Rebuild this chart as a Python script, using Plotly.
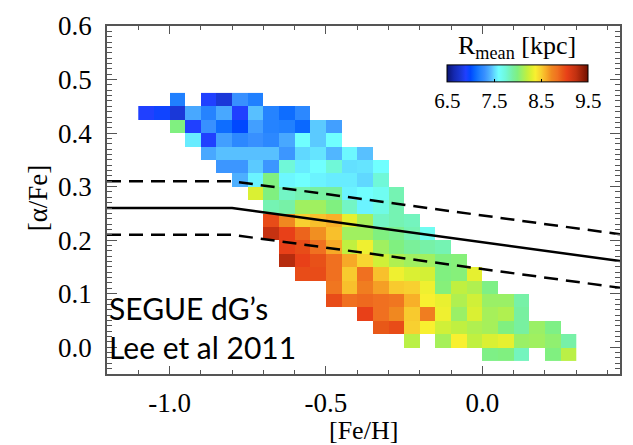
import plotly.graph_objects as go

# ---- data -----------------------------------------------------------
feh_centers = [-1.075, -1.025, -0.975, -0.925, -0.875, -0.825, -0.775, -0.725,
               -0.675, -0.625, -0.575, -0.525, -0.475, -0.425, -0.375, -0.325,
               -0.275, -0.225, -0.175, -0.125, -0.075, -0.025, 0.025, 0.075,
               0.125, 0.175, 0.225, 0.275]
alpha_centers = [0.4625, 0.4375, 0.4125, 0.3875, 0.3625, 0.3375, 0.3125, 0.2875,
                 0.2625, 0.2375, 0.2125, 0.1875, 0.1625, 0.1375, 0.1125, 0.0875,
                 0.0625, 0.0375, 0.0125, -0.0125]

# each row: (index of first filled [Fe/H] bin, R_mean values; None = empty bin)
row_start = [2, 0, 2, 3, 4, 5, 6, 7, 8, 8, 8, 9, 9, 10, 12, 12, 14, 15, 17, 22]
row_values = [
    [7.2, None, 6.9, 6.8, 7.3, 7.2],
    [6.9, 6.95, 6.8, 7.38, 7.22, 7.38, 6.9, 7.45, 7.22, 7.12, 7.25],
    [8.0, 6.9, 7.3, 7.12, 7.0, 7.35, 7.22, 7.2, 7.1, 7.47, 7.35],
    [7.55, 6.9, 7.35, 7.25, 7.3, 7.25, 7.38, 7.6, 7.47, 7.6],
    [7.38, 7.45, 7.45, 7.45, 7.45, 7.32, 7.5, 7.53, 7.42, 7.58, 7.45],
    [7.32, 7.32, 7.47, 7.32, 7.75, 7.55, 7.6, 7.75, 7.52, 7.53, 7.6],
    [7.4, 7.57, 8.0, 7.58, 7.6, 7.57, 7.55, 7.55, 7.5, 7.75],
    [8.28, 8.0, 7.8, 7.85, 7.9, 7.9, 7.57, 7.6, 7.65, 7.85],
    [7.85, 7.88, 8.1, 8.1, 8.0, 7.8, 7.57, 7.7, 7.85],
    [9.0, 8.72, 8.5, 8.55, 8.6, 8.32, 8.12, 7.8, 7.85, 7.82],
    [9.22, 9.05, 8.9, 8.7, 8.55, 8.1, 8.1, 8.0, 7.95, 7.85, 7.65],
    [9.05, 9.0, 8.85, 8.62, 8.2, 8.35, 8.1, 8.0, 7.92, 7.88, 7.85],
    [9.28, 9.05, 8.98, 8.85, 8.62, 8.48, 8.25, 8.15, 8.1, 8.1, 8.0, 8.02],
    [9.0, 9.0, 8.85, 8.52, 8.85, 8.55, 8.35, 8.28, 8.26, 8.0, 8.02, 8.32],
    [8.82, 8.55, 8.78, 8.65, 8.52, 8.5, 8.35, 8.02, 8.2, 8.15, 7.98],
    [9.0, 8.85, 8.88, 8.85, 8.82, 8.6, 8.38, 8.33, 8.15, 8.25, 8.08, 8.08, 7.88],
    [9.05, 8.85, 8.72, 8.52, 8.78, 8.35, 8.08, 8.28, 8.12, 8.15, 7.9],
    [8.95, 9.0, 8.5, 8.38, 8.25, 8.2, 8.15, 8.12, 8.0, 7.9, 8.08, 7.98],
    [8.18, None, 8.12, 8.38, 8.2, 8.28, 8.32, 8.08, 8.1, 8.05, 7.88],
    [7.98, 8.0, 7.82, None, 8.0, 8.18],
]

# dividing line (solid) and its +/- 0.05 envelope (dashed)
line_feh = [-1.2, -0.8, 0.44]
line_alpha = [0.26, 0.26, 0.161]
line_alpha_upper = [0.31, 0.31, 0.211]
line_alpha_lower = [0.21, 0.21, 0.111]

x_ticks = [-1.0, -0.5, 0.0]
x_ticktext = ["-1.0", "-0.5", "0.0"]
y_ticks = [0.0, 0.1, 0.2, 0.3, 0.4, 0.5, 0.6]
y_ticktext = ["0.0", "0.1", "0.2", "0.3", "0.4", "0.5", "0.6"]
cbar_ticks = [6.5, 7.5, 8.5, 9.5]
cbar_ticktext = ["6.5", "7.5", "8.5", "9.5"]

# ---- assemble grid ---------------------------------------------------
grid = []
for start, vals in zip(row_start, row_values):
    row = [None] * len(feh_centers)
    for i, v in enumerate(vals):
        row[start + i] = v
    grid.append(row)

zmin, zmax = 6.5, 9.5
stops = [
    (6.5, "#0a1470"), (6.65, "#1428b0"), (6.8, "#1a38d8"), (6.9, "#2040ff"),
    (7.0, "#0048ff"), (7.1, "#0a68ff"), (7.2, "#2080ff"), (7.3, "#3890ff"),
    (7.38, "#48a8ff"), (7.45, "#58c0ff"), (7.5, "#60d8ff"), (7.6, "#70ffff"),
    (7.75, "#70f8d8"), (7.9, "#78f0a0"), (8.0, "#80f080"), (8.1, "#a0f060"),
    (8.2, "#c0f040"), (8.3, "#e0f030"), (8.38, "#f8f030"), (8.5, "#f8d030"),
    (8.6, "#f8b028"), (8.72, "#f08820"), (8.85, "#f07020"), (8.95, "#e85818"),
    (9.05, "#e84018"), (9.25, "#c03010"), (9.5, "#701000"),
]
colorscale = [[(v - zmin) / (zmax - zmin), c] for v, c in stops]

W, H = 633, 445
ML, MR, MT, MB = 107, 11, 14, 71
PW, PH = W - ML - MR, H - MT - MB
SERIF = "Liberation Serif, Times New Roman, serif"


def px_x(px):
    return (px - ML) / PW


def px_y(py):
    return (H - MB - py) / PH


fig = go.Figure()
fig.add_trace(go.Heatmap(
    x=feh_centers, y=alpha_centers, z=grid,
    colorscale=colorscale, zmin=zmin, zmax=zmax,
    hoverongaps=False,
    colorbar=dict(
        orientation="h",
        lenmode="pixels", len=141, thickness=17,
        xpad=0, ypad=0,
        x=px_x(519.5), xanchor="center",
        y=px_y(81), yanchor="middle",
        outlinecolor="black", outlinewidth=1,
        tickvals=cbar_ticks, ticktext=cbar_ticktext,
        ticks="inside", ticklen=3, tickcolor="black",
        tickfont=dict(family=SERIF, size=21, color="black"),
    ),
))

fig.add_trace(go.Scatter(x=line_feh, y=line_alpha, mode="lines",
                         line=dict(color="black", width=2.5),
                         showlegend=False, hoverinfo="skip"))
for yy in (line_alpha_upper, line_alpha_lower):
    fig.add_trace(go.Scatter(x=line_feh, y=yy, mode="lines",
                             line=dict(color="black", width=2.5, dash="14px,8px"),
                             showlegend=False, hoverinfo="skip"))

axcol = "#555555"
tickfont = dict(family=SERIF, size=27, color="black")
fig.update_xaxes(
    range=[-1.2, 0.44], tickvals=x_ticks, ticktext=x_ticktext,
    ticks="inside", ticklen=8, tickwidth=1.2, tickcolor=axcol,
    minor=dict(dtick=0.1, tick0=0, ticks="inside", ticklen=4, tickcolor=axcol, tickwidth=1),
    showline=True, linecolor=axcol, linewidth=1.5, mirror="ticks",
    showgrid=False, zeroline=False, tickfont=tickfont, ticklabelstandoff=4,
    ticklabeloverflow="allow",
)
fig.update_yaxes(
    range=[-0.05, 0.6], tickvals=y_ticks, ticktext=y_ticktext,
    ticks="inside", ticklen=10, tickwidth=1.2, tickcolor=axcol,
    minor=dict(dtick=0.01, tick0=0, ticks="inside", ticklen=5, tickcolor=axcol, tickwidth=1),
    showline=True, linecolor=axcol, linewidth=1.5, mirror="ticks",
    showgrid=False, zeroline=False, tickfont=tickfont, ticklabelstandoff=8,
    ticklabeloverflow="allow",
)

ann_font = dict(family="Lato", size=30, color="black")
fig.update_layout(
    width=W, height=H,
    margin=dict(l=ML, r=MR, t=MT, b=MB),
    paper_bgcolor="white", plot_bgcolor="white",
    font=dict(family=SERIF, color="black"),
    showlegend=False,
    annotations=[
        dict(text="R<sub>mean</sub> [kpc]", xref="paper", yref="paper",
             x=px_x(519), y=px_y(36), xanchor="center", yanchor="middle",
             showarrow=False, font=dict(family=SERIF, size=26, color="black")),
        dict(text="[Fe/H]", xref="paper", yref="paper", x=0.5, y=px_y(432),
             xanchor="center", yanchor="middle", showarrow=False,
             font=dict(family=SERIF, size=26, color="black")),
        dict(text="[α/Fe]", xref="paper", yref="paper", x=px_x(38), y=px_y(192),
             xanchor="center", yanchor="middle", showarrow=False, textangle=-90,
             font=dict(family=SERIF, size=27, color="black")),
        dict(text="SEGUE dG’s", xref="paper", yref="paper", x=px_x(107), y=px_y(306),
             xanchor="left", yanchor="middle", showarrow=False, font=ann_font),
        dict(text="Lee et al 2011", xref="paper", yref="paper", x=px_x(107), y=px_y(346),
             xanchor="left", yanchor="middle", showarrow=False, font=ann_font),
    ],
)

fig.write_html("out.html")
